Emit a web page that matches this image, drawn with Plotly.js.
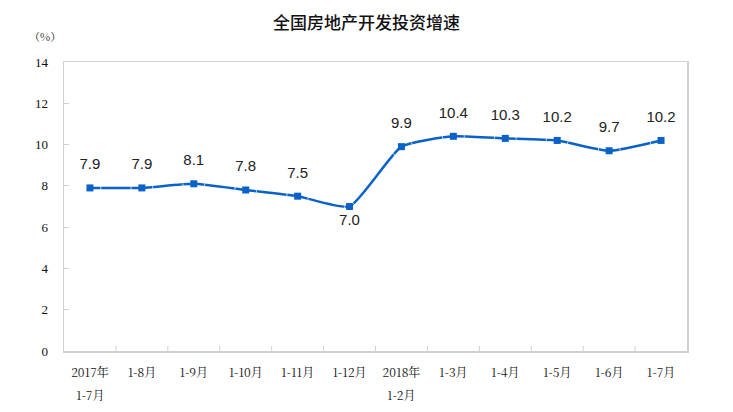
<!DOCTYPE html>
<html><head><meta charset="utf-8">
<script src="https://cdn.plot.ly/plotly-3.0.1.min.js"></script>
<style>body{margin:0;background:#fff}#c{width:733px;height:412px}</style>
</head><body><div id="c"></div>
<script>
const categories = ["2017年|1-7月","1-8月","1-9月","1-10月","1-11月","1-12月","2018年|1-2月","1-3月","1-4月","1-5月","1-6月","1-7月"];
const values = [7.9,7.9,8.1,7.8,7.5,7.0,9.9,10.4,10.3,10.2,9.7,10.2];
const labelPos = ["top center","top center","top center","top center","top center","bottom center","top center","top center","top center","top center","top center","top center"];
const yTicks = [0,2,4,6,8,10,12,14];

const xs = categories.map((c,i)=>i);
const line1 = categories.map(c=>c.split('|')[0]);
const line2 = categories.map(c=>c.split('|')[1] || '');
const blue = '#0a62c8';

const lineTrace = {
  x: xs, y: values, type: 'scatter', mode: 'lines+markers',
  line: {color: blue, width: 2.5, shape: 'spline', smoothing: 0.5},
  marker: {symbol: 'square', size: 7, color: blue}, hoverinfo: 'none'
};
const textTrace = {
  x: xs, y: values, type: 'scatter', mode: 'markers+text',
  marker: {size: labelPos.map(p=>p.startsWith('top') ? 22 : 10), color: 'rgba(0,0,0,0)'},
  text: values.map(v=>v.toFixed(1)), textposition: labelPos,
  textfont: {family: 'Liberation Sans, Arial, sans-serif', size: 15, color: '#222'},
  cliponaxis: false, hoverinfo: 'none'
};
const annotations = [{text: '（%）', xref: 'paper', yref: 'paper', x: -0.03, y: 1.09, xanchor: 'center', yanchor: 'middle', showarrow: false,
    font: {family: 'Noto Serif CJK SC, serif', size: 11, color: '#111'}}];
line2.forEach((t,i)=>{ if(t) annotations.push({text: t, xref: 'x', yref: 'paper', x: xs[i], y: 0, yshift: -43, xanchor: 'center', yanchor: 'middle', showarrow: false,
  font: {family: 'Noto Serif CJK SC, Liberation Serif, serif', size: 12, color: '#111'}}); });

const layout = {
  width: 733, height: 412, margin: {l: 64, r: 46, t: 62, b: 61},
  paper_bgcolor: '#fff', plot_bgcolor: '#fff', showlegend: false,
  title: {text: '全国房地产开发投资增速', x: 0.5, xanchor: 'center', y: 0.945, yanchor: 'middle',
    font: {family: 'Noto Sans CJK SC', size: 17, color: '#111', weight: 500}},
  xaxis: {range: [-0.5, 11.5], tickvals: xs, ticktext: line1,
    showline: true, linecolor: '#d0d0d0', linewidth: 1.5, mirror: true,
    showgrid: false, zeroline: false, ticks: '',
    tickfont: {family: 'Noto Serif CJK SC, Liberation Serif, serif', size: 12, color: '#111'},
    ticklabelstandoff: 10},
  yaxis: {range: [0, 14], tickvals: yTicks, ticktext: yTicks.map(String),
    showline: true, linecolor: '#d0d0d0', linewidth: 1.5, mirror: true,
    showgrid: false, zeroline: false, ticks: 'inside', ticklen: 5, tickcolor: '#d0d0d0',
    tickfont: {family: 'Liberation Serif, serif', size: 13, color: '#111'},
    ticklabelstandoff: 12},
  shapes: categories.slice(1).map((c,i)=>({type:'line', xref:'x', yref:'paper', x0:i+0.5, x1:i+0.5, y0:0, y1:0.017, line:{color:'#d0d0d0', width:1}})),
  annotations: annotations
};
Plotly.newPlot('c', [lineTrace, textTrace], layout, {displayModeBar: false, staticPlot: true});
</script></body></html>
